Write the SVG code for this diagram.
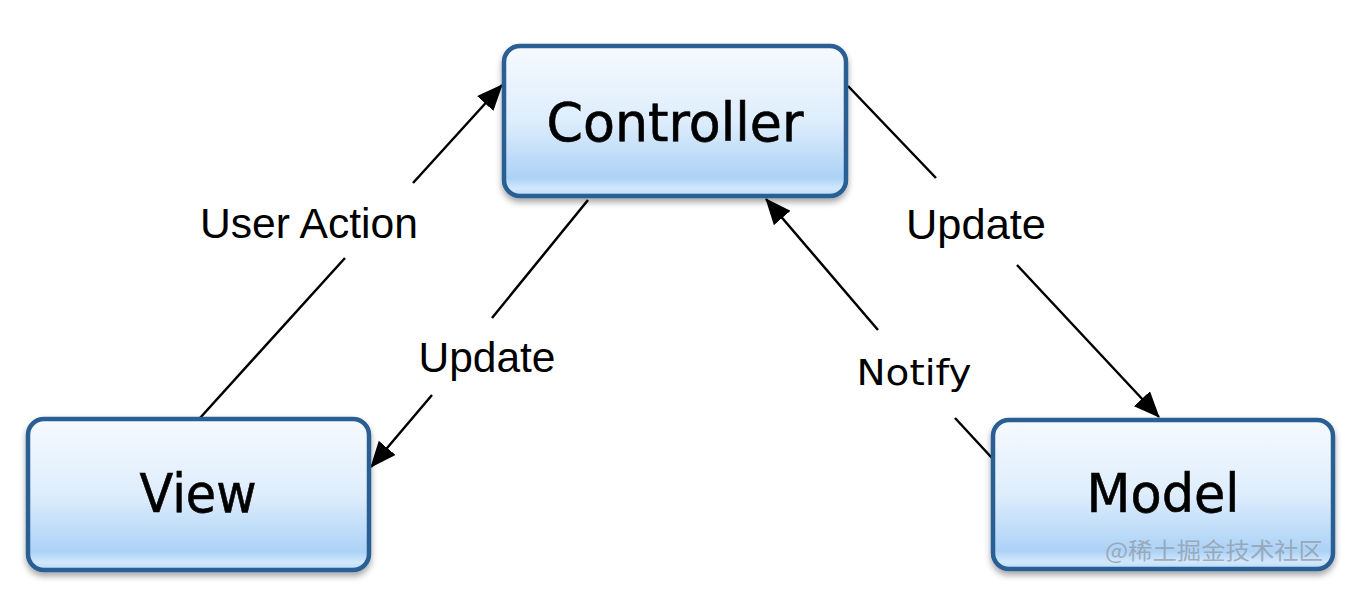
<svg xmlns="http://www.w3.org/2000/svg" width="1364" height="607" viewBox="0 0 1364 607">
<style>
.box{fill:url(#g);stroke:#2a5e93;stroke-width:4.5;filter:url(#sh)}
.nt{font-family:"DejaVu Sans",sans-serif;font-size:53px;fill:#000;stroke:#000;stroke-width:0.6;text-anchor:middle}
.lb{font-family:"Liberation Sans",Arial,sans-serif;font-size:42px;fill:#000;text-anchor:middle}
.lb2{font-family:"DejaVu Sans",sans-serif;font-size:35px;fill:#000;text-anchor:middle}
.cn{stroke:#000;stroke-width:2.5;fill:none;marker-end:url(#ah)}
.wm{font-family:"Noto Sans CJK SC",sans-serif;font-size:23px;fill:#8f9aa5;fill-opacity:0.75}
</style>
<defs>
<linearGradient id="g" x1="0" y1="0" x2="0" y2="1">
<stop offset="0" stop-color="#f6fafe"/>
<stop offset="0.5" stop-color="#deedfc"/>
<stop offset="0.88" stop-color="#acd2f6"/>
<stop offset="0.95" stop-color="#d2e8fc"/>
<stop offset="1" stop-color="#b9daf8"/>
</linearGradient>
<filter id="sh" x="-10%" y="-10%" width="120%" height="130%">
<feDropShadow dx="0" dy="4" stdDeviation="3" flood-color="#000" flood-opacity="0.35"/>
</filter>
<marker id="ah" markerUnits="userSpaceOnUse" markerWidth="26" markerHeight="22" viewBox="0 0 26 22" refX="25" refY="11" orient="auto">
<path d="M0,0 L26,11 L0,22 z" fill="#000"/>
</marker>
</defs>
<g id="connectors">
<path class="cn" d="M200,418 L345,258 M413,183 L502,85"/>
<path class="cn" d="M588,200 L492,318 M432,395 L371,467"/>
<path class="cn" d="M848,86 L936,178 M1017,265 L1159,417"/>
<path class="cn" d="M992,458 L955,418 M878,330 L766,199"/>
<text class="lb" x="309" y="238" textLength="218" lengthAdjust="spacingAndGlyphs">User Action</text>
<text class="lb" x="487" y="372" textLength="137" lengthAdjust="spacingAndGlyphs">Update</text>
<text class="lb" x="976" y="239" textLength="140" lengthAdjust="spacingAndGlyphs">Update</text>
<text class="lb2" x="914" y="385" textLength="115" lengthAdjust="spacingAndGlyphs">Notify</text>
</g>
<g id="controller">
<rect class="box" x="504" y="46" width="342" height="150" rx="16"/>
<text class="nt" x="675" y="141" textLength="257" lengthAdjust="spacingAndGlyphs">Controller</text>
</g>
<g id="view">
<rect class="box" x="28" y="419" width="341" height="151" rx="16"/>
<text class="nt" x="198" y="512" textLength="117" lengthAdjust="spacingAndGlyphs">View</text>
</g>
<g id="model">
<rect class="box" x="993" y="420" width="340" height="149" rx="16"/>
<text class="nt" x="1163" y="512" textLength="153" lengthAdjust="spacingAndGlyphs">Model</text>
<text class="wm" x="1105" y="559" textLength="218" lengthAdjust="spacingAndGlyphs">@稀土掘金技术社区</text>
</g>
</svg>
